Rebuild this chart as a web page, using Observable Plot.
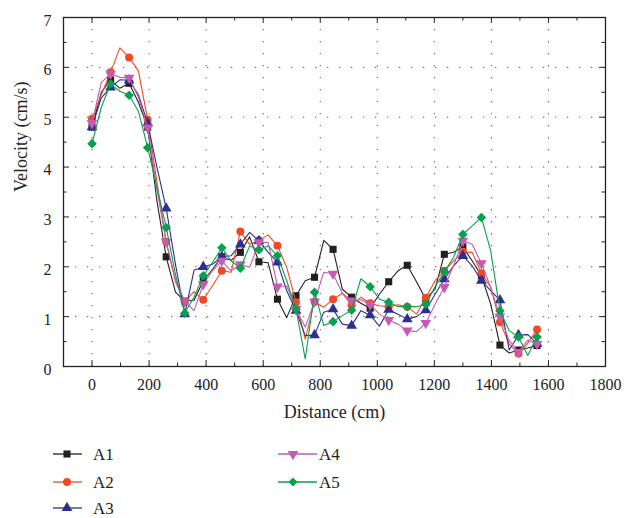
<!DOCTYPE html>
<html>
<head>
<meta charset="utf-8">
<script src="https://cdn.jsdelivr.net/npm/d3@7"></script>
<script src="https://cdn.jsdelivr.net/npm/@observablehq/plot@0.6"></script>
<style>
  html, body { margin: 0; padding: 0; background: #fff; }
  #wrap { width: 627px; height: 518px; position: relative; overflow: hidden; }
  svg { display: block; }
</style>
</head>
<body>
<div id="wrap"></div>
<script>
// ---- data ----
const distance = [0, 32.5, 65, 97.5, 130, 162.5, 195, 227.5, 260, 292.5, 325, 357.5, 390, 422.5, 455, 487.5, 520, 552.5, 585, 617.5, 650, 682.5, 715, 747.5, 780, 812.5, 845, 877.5, 910, 942.5, 975, 1007.5, 1040, 1072.5, 1105, 1137.5, 1170, 1202.5, 1235, 1267.5, 1300, 1332.5, 1365, 1397.5, 1430, 1462.5, 1495, 1527.5, 1560];

const A1 = [4.80, 5.50, 5.75, 5.58, 5.68, 5.30, 4.80, 3.32, 2.20, 1.49, 1.31, 1.33, 1.72, 1.95, 2.20, 2.13, 2.29, 2.60, 2.10, 2.08, 1.35, 0.98, 1.42, 1.72, 1.79, 2.53, 2.35, 1.55, 1.39, 1.27, 1.17, 1.45, 1.70, 1.92, 2.03, 1.70, 1.35, 1.55, 2.25, 2.29, 2.40, 2.12, 1.82, 1.25, 0.43, 0.27, 0.33, 0.37, 0.42];
const A2 = [4.97, 5.45, 5.90, 6.39, 6.20, 5.93, 4.95, 3.70, 2.50, 1.70, 1.30, 1.50, 1.34, 1.62, 1.92, 1.89, 2.71, 2.45, 2.53, 2.64, 2.42, 1.99, 1.29, 0.55, 1.30, 1.19, 1.35, 1.47, 1.23, 1.39, 1.27, 1.22, 1.20, 1.24, 1.20, 1.05, 1.38, 1.72, 1.92, 2.12, 2.30, 2.29, 1.87, 1.59, 0.89, 0.45, 0.26, 0.47, 0.74];
const A3 = [4.80, 5.39, 5.60, 5.75, 5.74, 5.45, 4.88, 4.00, 3.17, 2.05, 1.05, 1.93, 2.00, 2.05, 2.20, 2.22, 2.45, 2.69, 2.52, 2.29, 2.09, 1.52, 1.12, 0.62, 0.63, 1.09, 1.15, 0.85, 0.82, 1.12, 1.03, 0.81, 1.14, 1.05, 0.95, 1.00, 1.13, 1.45, 1.75, 2.02, 2.22, 2.02, 1.72, 1.52, 1.33, 0.33, 0.63, 0.64, 0.46];
const A4 = [4.88, 5.70, 5.87, 5.80, 5.79, 5.40, 4.79, 3.55, 2.50, 1.75, 1.30, 1.12, 1.65, 1.92, 2.12, 1.92, 2.05, 1.99, 2.49, 2.49, 1.60, 1.62, 1.15, 0.79, 1.30, 1.89, 1.86, 1.47, 1.32, 1.34, 1.24, 1.05, 0.93, 0.85, 0.72, 0.70, 0.87, 1.25, 1.59, 2.02, 2.52, 2.45, 2.07, 1.59, 1.00, 0.52, 0.29, 0.53, 0.45];
const A5 = [4.47, 5.20, 5.67, 5.52, 5.44, 5.12, 4.39, 3.60, 2.79, 1.85, 1.07, 1.39, 1.82, 2.09, 2.38, 2.12, 1.97, 2.42, 2.34, 2.42, 2.22, 1.72, 1.15, 0.15, 1.49, 0.82, 0.90, 1.02, 1.13, 1.76, 1.60, 1.35, 1.29, 1.20, 1.20, 1.20, 1.25, 1.60, 1.90, 2.19, 2.65, 2.82, 2.99, 2.32, 1.12, 0.72, 0.59, 0.22, 0.59];

const seriesNames = ["A1", "A2", "A3", "A4", "A5"];
const seriesValues = [A1, A2, A3, A4, A5];
const seriesColors = ["#231f20", "#f04a24", "#2e2f8f", "#c65bb2", "#06a04e"];
const seriesSymbols = ["square", "circle", "triangle", "triangle", "diamond2"];
const seriesRotate = [0, 0, 0, 180, 0];

const xMajor = [0, 200, 400, 600, 800, 1000, 1200, 1400, 1600, 1800];
const xMinor = [-100, 100, 300, 500, 700, 900, 1100, 1300, 1500, 1700];
const xGrid = [0, 200, 400, 600, 800, 1000, 1200, 1400, 1600];
const yMajor = [0, 1, 2, 3, 4, 5, 6, 7];
const yMinor = [0.5, 1.5, 2.5, 3.5, 4.5, 5.5, 6.5];
const yGrid = [1, 2, 3, 4, 5, 6];

// ---- build ----
const W = 627, H = 425;
const mL = 63, mR = 22, mT = 17, mB = 59;
const innerW = W - mL - mR, innerH = H - mT - mB;
const font = "Liberation Serif, serif";

const marks = [];
// dotted grid
marks.push(Plot.ruleX(xGrid, {x: d => d, stroke: "#555", strokeWidth: 1, strokeDasharray: "1.3,10.7"}));
marks.push(Plot.ruleY(yGrid, {y: d => d, stroke: "#555", strokeWidth: 1, strokeDasharray: "1.3,10.7"}));

// series: line through every reading, symbol on every other one
seriesNames.forEach((name, s) => {
  const rows = seriesValues[s].map((v, i) => ({name, x: distance[i], y: v, i}));
  marks.push(Plot.line(rows, {x: "x", y: "y", stroke: seriesColors[s], strokeWidth: 1.1, curve: "linear"}));
  marks.push(Plot.dot(rows.filter(d => d.i % 2 === 0), {
    x: "x", y: "y", fill: seriesColors[s], stroke: "none",
    symbol: seriesSymbols[s], r: s === 4 ? 4.3 : 4, rotate: seriesRotate[s]
  }));
});

// inside ticks on all four sides
const major = 6, minor = 3.5;
marks.push(Plot.tickX(xMajor, {x: d => d, insetTop: innerH - major, stroke: "#222"}));
marks.push(Plot.tickX(xMinor, {x: d => d, insetTop: innerH - minor, stroke: "#222"}));
marks.push(Plot.tickX(xMajor, {x: d => d, insetBottom: innerH - major, stroke: "#222"}));
marks.push(Plot.tickX(xMinor, {x: d => d, insetBottom: innerH - minor, stroke: "#222"}));
marks.push(Plot.tickY(yMajor, {y: d => d, insetRight: innerW - major, stroke: "#222"}));
marks.push(Plot.tickY(yMinor, {y: d => d, insetRight: innerW - minor, stroke: "#222"}));
marks.push(Plot.tickY(yMajor, {y: d => d, insetLeft: innerW - major, stroke: "#222"}));
marks.push(Plot.tickY(yMinor, {y: d => d, insetLeft: innerW - minor, stroke: "#222"}));

marks.push(Plot.frame({stroke: "#222", strokeWidth: 1.3}));

// tick labels and axis titles
marks.push(Plot.axisX(xMajor, {tickSize: 0, tickPadding: 12, tickFormat: d => String(d), fill: "#222", fontSize: 16, fontFamily: font, label: null}));
marks.push(Plot.axisY(yMajor, {tickSize: 0, tickPadding: 12, tickFormat: d => String(d), fill: "#222", fontSize: 16, fontFamily: font, dy: 3, label: null}));
marks.push(Plot.text(["Distance (cm)"], {frameAnchor: "bottom", dy: 46, text: d => d, fontSize: 18, fontFamily: font, fill: "#222", lineAnchor: "middle"}));
marks.push(Plot.text(["Velocity (cm/s)"], {frameAnchor: "left", dx: -42, rotate: -90, text: d => d, fontSize: 18, fontFamily: font, fill: "#222", lineAnchor: "middle"}));

const chart = Plot.plot({
  width: W, height: H,
  marginLeft: mL, marginRight: mR, marginTop: mT, marginBottom: mB,
  x: {domain: [-100, 1800], axis: null},
  y: {domain: [0, 7], axis: null},
  style: {background: "white", color: "#222"},
  marks
});
document.getElementById("wrap").appendChild(chart);

// ---- legend (below the plot SVG) ----
const legendH = 518 - H;
const leg = d3.select("#wrap").append("svg")
  .attr("width", W).attr("height", legendH)
  .attr("font-family", font).attr("font-size", 17);
const legPos = [
  {lx1: 53, lx2: 82, mx: 67, tx: 93, y: 29},
  {lx1: 53, lx2: 82, mx: 67, tx: 93, y: 57},
  {lx1: 53, lx2: 82, mx: 67, tx: 93, y: 83},
  {lx1: 278, lx2: 317, mx: 293, tx: 319, y: 29},
  {lx1: 278, lx2: 317, mx: 293, tx: 319, y: 57}
];
const symMap = {square: d3.symbolSquare, circle: d3.symbolCircle, triangle: d3.symbolTriangle, diamond2: d3.symbolDiamond2};
seriesNames.forEach((name, s) => {
  const p = legPos[s];
  const g = leg.append("g");
  g.append("line").attr("x1", p.lx1).attr("x2", p.lx2).attr("y1", p.y).attr("y2", p.y)
    .attr("stroke", seriesColors[s]).attr("stroke-width", 1.3);
  const r = 4;
  g.append("path").attr("d", d3.symbol(symMap[seriesSymbols[s]], Math.PI * r * r)())
    .attr("transform", `translate(${p.mx},${p.y}) rotate(${seriesRotate[s]})`)
    .attr("fill", seriesColors[s]);
  g.append("text").attr("x", p.tx).attr("y", p.y).attr("dy", "0.35em")
    .attr("fill", "#222").text(name);
});
</script>
</body>
</html>
